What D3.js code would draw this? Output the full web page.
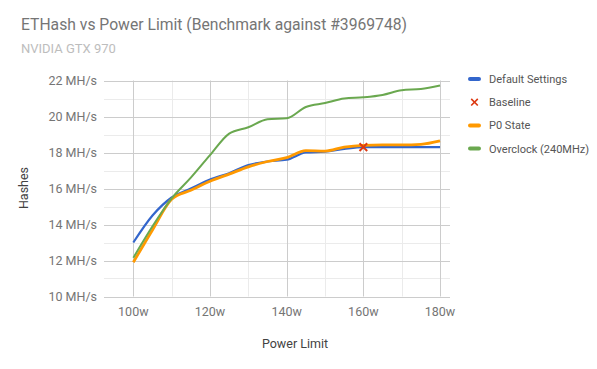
<!DOCTYPE html>
<html>
<head>
<meta charset="utf-8">
<script src="https://cdn.jsdelivr.net/npm/d3@7"></script>
<style>
  body { margin: 0; background: #fff; }
  text { font-family: Roboto, "Noto Sans", sans-serif; }
</style>
</head>
<body>
<div id="container"></div>
<script>
const watts = [100, 105, 110, 115, 120, 125, 130, 135, 140, 145, 150, 155, 160, 165, 170, 175, 180];
const defaultSettings = [13.0, 14.5, 15.5, 16.0, 16.5, 16.85, 17.3, 17.5, 17.6, 18.0, 18.05, 18.2, 18.3, 18.3, 18.3, 18.3, 18.3];
const p0State = [11.9, 13.7, 15.4, 15.9, 16.4, 16.8, 17.2, 17.5, 17.72, 18.1, 18.08, 18.3, 18.4, 18.42, 18.42, 18.45, 18.64];
const overclock = [12.15, 13.9, 15.45, 16.6, 17.85, 19.05, 19.4, 19.85, 19.9, 20.53, 20.75, 21.0, 21.07, 21.2, 21.46, 21.53, 21.72];
const baseline = [{ w: 160, v: 18.3 }];
const xTicks = [100, 120, 140, 160, 180];
const yTicks = [10, 12, 14, 16, 18, 20, 22];

const seriesNames = ["Default Settings", "Baseline", "P0 State", "Overclock (240MHz)"];
const colors = ["#3366cc", "#dc3912", "#ff9900", "#6aa84f"];

function main() {
    const width = 597, height = 369;
    const left = 104, right = 450, top = 80.5, bottom = 296.5;

    const svg = d3.select("#container")
        .append("svg")
        .attr("width", width)
        .attr("height", height);

    const x = d3.scaleLinear()
        .domain([92.35, 182.6])
        .range([left, right]);

    const y = d3.scaleLinear()
        .domain([10, 22])
        .range([bottom, top]);

    // minor gridlines
    svg.append("g")
        .selectAll("line")
        .data(d3.range(11, 22, 2))
        .join("line")
        .attr("x1", left).attr("x2", right)
        .attr("y1", d => Math.round(y(d)) + 0.5)
        .attr("y2", d => Math.round(y(d)) + 0.5)
        .attr("stroke", "#ebebeb");

    svg.append("g")
        .selectAll("line")
        .data([110, 130, 150, 170])
        .join("line")
        .attr("y1", top).attr("y2", bottom)
        .attr("x1", d => Math.round(x(d)) + 0.5)
        .attr("x2", d => Math.round(x(d)) + 0.5)
        .attr("stroke", "#ebebeb");

    // major gridlines
    svg.append("g")
        .selectAll("line")
        .data(yTicks)
        .join("line")
        .attr("x1", left).attr("x2", right)
        .attr("y1", d => Math.round(y(d)) + 0.5)
        .attr("y2", d => Math.round(y(d)) + 0.5)
        .attr("stroke", "#cccccc");

    svg.append("g")
        .selectAll("line")
        .data(xTicks)
        .join("line")
        .attr("y1", top).attr("y2", bottom)
        .attr("x1", d => Math.round(x(d)) + 0.5)
        .attr("x2", d => Math.round(x(d)) + 0.5)
        .attr("stroke", "#cccccc");

    // tick labels
    svg.append("g")
        .selectAll("text")
        .data(yTicks)
        .join("text")
        .attr("x", 97)
        .attr("y", d => y(d) + 4.5)
        .attr("text-anchor", "end")
        .attr("font-size", 12.5)
        .attr("fill", "#757575")
        .text(d => d + " MH/s");

    svg.append("g")
        .selectAll("text")
        .data(xTicks)
        .join("text")
        .attr("x", d => x(d))
        .attr("y", 315.5)
        .attr("text-anchor", "middle")
        .attr("font-size", 12.5)
        .attr("fill", "#757575")
        .text(d => d + "w");

    // lines
    const line = d3.line()
        .x((d, i) => x(watts[i]))
        .y(d => y(d))
        .curve(d3.curveMonotoneX);

    [[defaultSettings, colors[0], 2.2], [p0State, colors[2], 2.8], [overclock, colors[3], 2]]
        .forEach(([data, color, w]) => {
            svg.append("path")
                .datum(data)
                .attr("fill", "none")
                .attr("stroke", color)
                .attr("stroke-width", w)
                .attr("stroke-linejoin", "round")
                .attr("d", line);
        });

    // baseline marker
    const cross = d3.symbol().type(d3.symbolX).size(40);
    svg.append("g")
        .selectAll("path")
        .data(baseline)
        .join("path")
        .attr("transform", d => `translate(${x(d.w)},${y(d.v)})`)
        .attr("d", cross)
        .attr("stroke", colors[1])
        .attr("stroke-width", 2)
        .attr("fill", "none");

    // titles
    svg.append("text")
        .attr("x", 21).attr("y", 30)
        .attr("font-size", 15.7)
        .attr("fill", "#757575")
        .text("ETHash vs Power Limit (Benchmark against #3969748)");

    svg.append("text")
        .attr("x", 21).attr("y", 53)
        .attr("font-size", 13)
        .attr("fill", "#bdbdbd")
        .text("NVIDIA GTX 970");

    svg.append("text")
        .attr("x", 295).attr("y", 347.5)
        .attr("text-anchor", "middle")
        .attr("font-size", 12.5)
        .attr("fill", "#424242")
        .text("Power Limit");

    svg.append("text")
        .attr("transform", "translate(28,188) rotate(-90)")
        .attr("text-anchor", "middle")
        .attr("font-size", 12.5)
        .attr("fill", "#424242")
        .text("Hashes");

    // legend
    const legend = svg.append("g")
        .selectAll("g")
        .data(seriesNames)
        .join("g")
        .attr("transform", (d, i) => `translate(0,${79 + i * 23.2})`);

    legend.filter((d, i) => i !== 1)
        .append("line")
        .attr("x1", 470).attr("x2", 479)
        .attr("stroke", d => colors[seriesNames.indexOf(d)])
        .attr("stroke-width", 4)
        .attr("stroke-linecap", "round");

    legend.filter((d, i) => i === 1)
        .append("path")
        .attr("transform", "translate(474.5,0)")
        .attr("d", d3.symbol().type(d3.symbolX).size(30))
        .attr("stroke", colors[1])
        .attr("stroke-width", 1.6)
        .attr("fill", "none");

    legend.append("text")
        .attr("x", 489)
        .attr("y", 4)
        .attr("font-size", 11)
        .attr("fill", "#555555")
        .text(d => d);
}

main();
</script>
</body>
</html>
